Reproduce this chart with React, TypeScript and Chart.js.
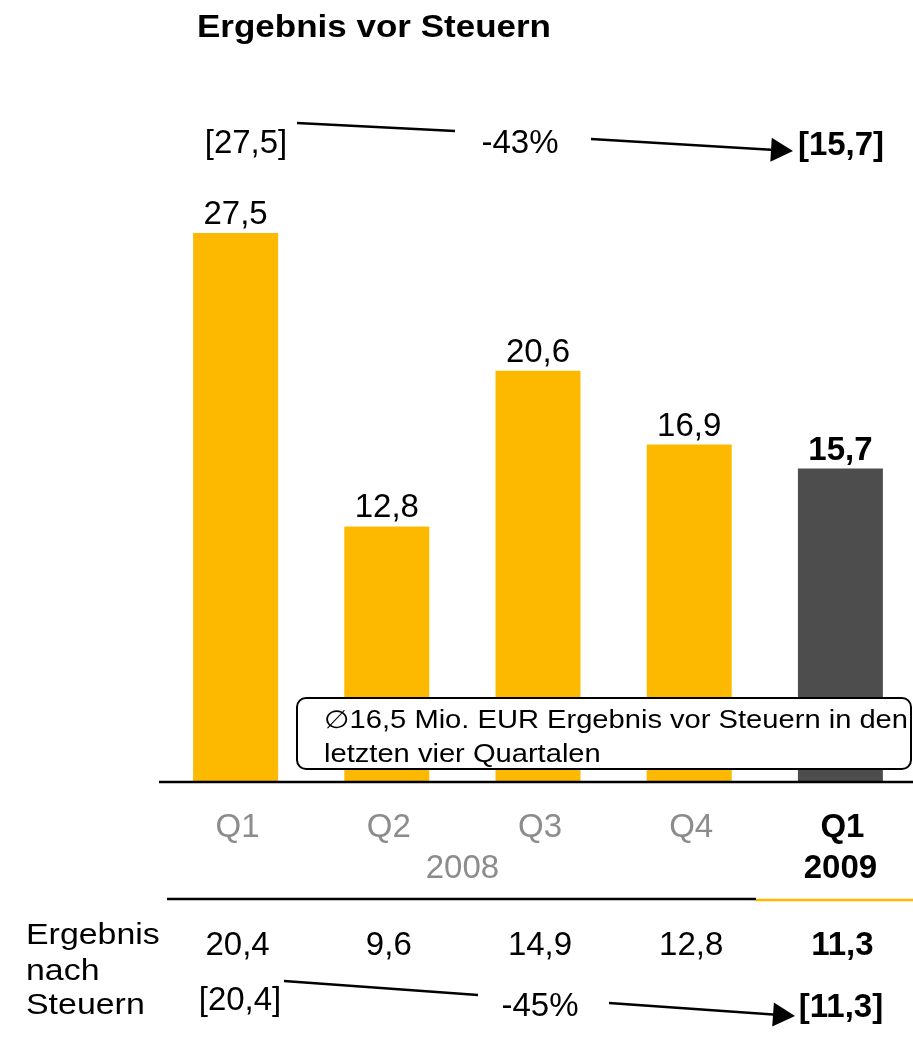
import React, { useEffect, useRef } from "react";
import { Chart, registerables } from "chart.js";

Chart.register(...registerables);

const quarterLabels = ["Q1", "Q2", "Q3", "Q4", "Q1"];
const yearLabels = ["2008", "2009"];
const preTaxValues = [27.5, 12.8, 20.6, 16.9, 15.7];
const afterTaxValues = [20.4, 9.6, 14.9, 12.8, 11.3];
const barColors = ["#FDB900", "#FDB900", "#FDB900", "#FDB900", "#4D4D4D"];
const titleText = "Ergebnis vor Steuern";
const preTaxChange = "-43%";
const afterTaxChange = "-45%";
const boxLines = ["\u220516,5 Mio. EUR Ergebnis vor Steuern in den", "letzten vier Quartalen"];
const rowLabel = ["Ergebnis", "nach", "Steuern"];

const FONT = "'Liberation Sans', Arial, Helvetica, sans-serif";
const fmt = (v: number) => v.toFixed(1).replace(".", ",");

function txt(
  ctx: CanvasRenderingContext2D,
  s: string,
  x: number,
  y: number,
  o: { size: number; bold?: boolean; color?: string; align?: CanvasTextAlign; sx?: number; width?: number }
) {
  ctx.save();
  ctx.font = `${o.bold ? "bold " : ""}${o.size}px ${FONT}`;
  ctx.fillStyle = o.color || "#000";
  ctx.textBaseline = "alphabetic";
  let sx = o.sx || 1;
  if (o.width) sx = o.width / ctx.measureText(s).width;
  ctx.translate(x, y);
  ctx.scale(sx, 1);
  ctx.textAlign = o.align || "left";
  ctx.fillText(s, 0, 0);
  ctx.restore();
  return sx;
}

function line(ctx: CanvasRenderingContext2D, x1: number, y1: number, x2: number, y2: number, w: number, c: string) {
  ctx.save();
  ctx.strokeStyle = c;
  ctx.lineWidth = w;
  ctx.beginPath();
  ctx.moveTo(x1, y1);
  ctx.lineTo(x2, y2);
  ctx.stroke();
  ctx.restore();
}

function arrow(ctx: CanvasRenderingContext2D, x1: number, y1: number, x2: number, y2: number) {
  const dx = x2 - x1, dy = y2 - y1;
  const len = Math.hypot(dx, dy);
  const ux = dx / len, uy = dy / len;
  const hl = 22, hw = 12;
  const bx = x2 - ux * hl, by = y2 - uy * hl;
  line(ctx, x1, y1, bx, by, 2.5, "#000");
  ctx.save();
  ctx.fillStyle = "#000";
  ctx.beginPath();
  ctx.moveTo(x2, y2);
  ctx.lineTo(bx - uy * hw, by + ux * hw);
  ctx.lineTo(bx + uy * hw, by - ux * hw);
  ctx.closePath();
  ctx.fill();
  ctx.restore();
}

const annotations = {
  id: "annotations",
  afterDraw(chart: any) {
    const ctx: CanvasRenderingContext2D = chart.ctx;
    const meta = chart.getDatasetMeta(0);
    const xs = chart.scales.x;
    const ys = chart.scales.y;
    const cx = (i: number) => xs.getPixelForValue(i);
    const last = preTaxValues.length - 1;

    // title
    txt(ctx, titleText, 197, 37, { size: 32, bold: true, width: 354 });

    // top comparison row
    txt(ctx, `[${fmt(preTaxValues[0])}]`, 246, 153, { size: 33, align: "center" });
    txt(ctx, preTaxChange, 520, 153, { size: 33, align: "center" });
    txt(ctx, `[${fmt(preTaxValues[last])}]`, 841, 155, { size: 33, bold: true, align: "center" });
    line(ctx, 297, 123, 455, 131, 2.5, "#000");
    arrow(ctx, 591, 139, 793, 151);

    // value labels above bars
    meta.data.forEach((bar: any, i: number) => {
      txt(ctx, fmt(preTaxValues[i]), bar.x, bar.y - 9, {
        size: 33,
        bold: i === last,
        align: "center",
      });
    });

    // baseline
    const y0 = ys.getPixelForValue(0);
    line(ctx, 159, y0, 913, y0, 2.5, "#000");

    // info box
    ctx.save();
    ctx.fillStyle = "#fff";
    ctx.strokeStyle = "#000";
    ctx.lineWidth = 2;
    ctx.beginPath();
    (ctx as any).roundRect(297, 698, 614, 71, 9);
    ctx.fill();
    ctx.stroke();
    ctx.restore();
    const sx = txt(ctx, boxLines[0], 324, 728, { size: 25, width: 584 });
    txt(ctx, boxLines[1], 324, 762, { size: 25, sx });

    // category labels
    quarterLabels.forEach((q, i) => {
      txt(ctx, q, cx(i) + 2, 837, {
        size: 33,
        bold: i === last,
        color: i === last ? "#000" : "#8C8C8C",
        align: "center",
      });
    });
    txt(ctx, yearLabels[0], (cx(1) + cx(2)) / 2, 878, { size: 33, color: "#8C8C8C", align: "center" });
    txt(ctx, yearLabels[1], cx(last), 878, { size: 33, bold: true, align: "center" });

    // separators
    line(ctx, 167, 899, 756, 899, 2.5, "#000");
    line(ctx, 756, 900, 913, 900, 2.5, "#FDB900");

    // after-tax row
    const ly = [944, 980, 1014];
    rowLabel.forEach((s, i) => txt(ctx, s, 26, ly[i], { size: 30, sx: 1.13 }));
    afterTaxValues.forEach((v, i) => {
      txt(ctx, fmt(v), cx(i) + 2, 955, { size: 33, bold: i === last, align: "center" });
    });
    txt(ctx, `[${fmt(afterTaxValues[0])}]`, 240, 1010, { size: 33, align: "center" });
    txt(ctx, afterTaxChange, 540, 1016, { size: 33, align: "center" });
    txt(ctx, `[${fmt(afterTaxValues[last])}]`, 841, 1017, { size: 33, bold: true, align: "center" });
    line(ctx, 284, 981, 478, 995, 2.5, "#000");
    arrow(ctx, 609, 1003, 795, 1016);
  },
};

export default function App() {
  const ref = useRef<HTMLCanvasElement>(null);
  useEffect(() => {
    if (!ref.current) return;
    const chart = new Chart(ref.current, {
      type: "bar",
      data: {
        labels: quarterLabels.map((q, i) => `${q} ${i === 4 ? yearLabels[1] : yearLabels[0]}`),
        datasets: [
          {
            data: preTaxValues,
            backgroundColor: barColors,
            borderWidth: 0,
            barPercentage: 0.562,
            categoryPercentage: 1,
          },
        ],
      },
      options: {
        responsive: false,
        animation: false,
        devicePixelRatio: 1,
        layout: { padding: { left: 160, right: 0, top: 183, bottom: 256 } },
        plugins: { legend: { display: false }, tooltip: { enabled: false } },
        scales: {
          x: { display: false },
          y: { display: false, min: 0, max: 30 },
        },
      },
      plugins: [annotations],
    });
    return () => chart.destroy();
  }, []);
  return (
    <div
      style={{
        position: "absolute",
        left: 0,
        top: 0,
        width: 913,
        height: 1038,
        overflow: "hidden",
        background: "#fff",
      }}
    >
      <canvas ref={ref} width={916} height={1038} style={{ display: "block" }} />
    </div>
  );
}
